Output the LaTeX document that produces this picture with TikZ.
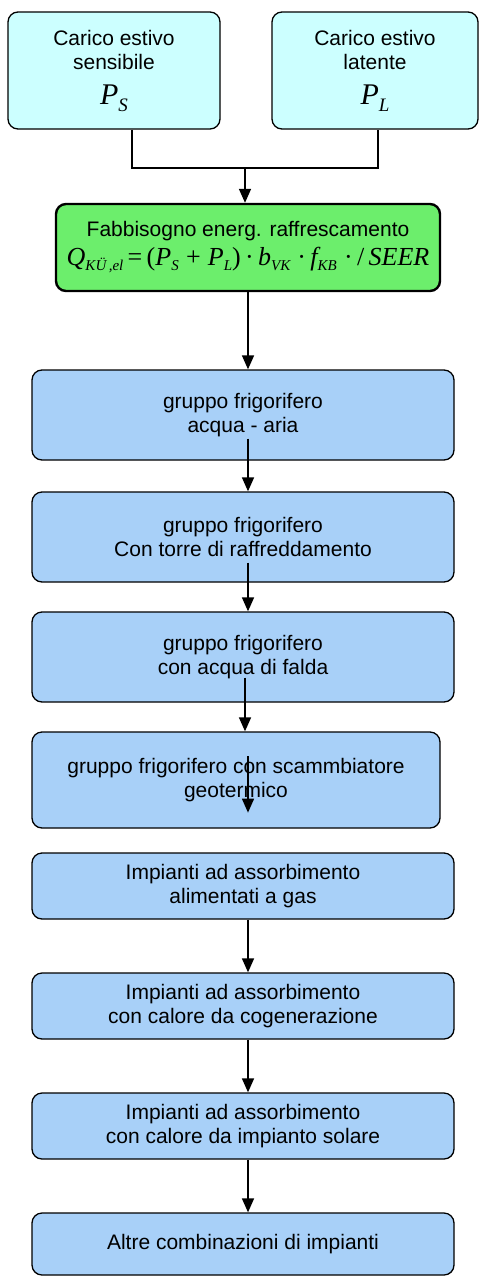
\documentclass[tikz,border=0pt]{standalone}
\usepackage{fontspec}
\setmainfont{Liberation Sans}
\newfontfamily\tnr{Liberation Serif}
\usetikzlibrary{arrows.meta}
\usetikzlibrary{calc}

\definecolor{loadcyan}{RGB}{204,255,255}
\definecolor{needgreen}{RGB}{108,238,108}
\definecolor{plantblue}{RGB}{168,208,248}

% load symbols (P_S, P_L) and formula variables
\newcommand{\loadvar}[2]{{\tnr\itshape\fontsize{30}{30}\selectfont #1}\raisebox{-7pt}{\tnr\itshape\fontsize{19}{19}\selectfont #2}}
\newcommand{\fvar}[2]{{\itshape #1}\raisebox{-5pt}{\itshape\fontsize{15}{15}\selectfont #2}}

\begin{document}
\begin{tikzpicture}[x=1pt,y=-1pt,
	box/.style={draw,rounded corners=10pt,line width=1.3pt,align=center,inner sep=0pt,
		font=\fontsize{21}{24}\selectfont},
	loadbox/.style={box,fill=loadcyan,minimum height=117pt},
	needbox/.style={box,fill=needgreen,line width=2.4pt,minimum width=384pt,minimum height=87pt},
	plantbox/.style={box,fill=plantblue,minimum width=422pt},
	link/.style={line width=1.5pt},
	flow/.style={line width=1.5pt,-{Triangle[width=12pt,length=14pt]}}]
	\useasboundingbox (0,0) rectangle (480,1277);

	% summer loads
	\node[loadbox,minimum width=212pt] (ps) at (114,70.5) {Carico estivo\\sensibile\\[11pt]\loadvar{P}{S}};
	\node[loadbox,minimum width=206pt] (pl) at (375,70.5) {Carico estivo\\latente\\[11pt]\loadvar{P}{L}};

	% cooling energy need
	\node[needbox] (need) at (248,247.5) {Fabbisogno energ. raffrescamento\\[5pt]
		{\tnr\fontsize{26}{26}\selectfont\fvar{Q}{KÜ\,,el}\,=\,(\fvar{P}{S}\;+\;\fvar{P}{L})\,·\,\fvar{b}{VK}\;·\,\fvar{f}{KB}\;·\,/\,{\itshape SEER}}};

	% plants
	\node[plantbox,minimum height=90pt] (b1) at (243,415) {gruppo frigorifero\\acqua - aria};
	\node[plantbox,minimum height=90pt] (b2) at (243,537) {gruppo frigorifero\\Con torre di raffreddamento};
	\node[plantbox,minimum height=90pt] (b3) at (243,657) {gruppo frigorifero\\con acqua di falda};
	\node[plantbox,minimum width=408pt,minimum height=96pt] (b4) at (236,780) {gruppo frigorifero con scammbiatore\\geotermico};
	\node[plantbox,minimum height=66pt] (b5) at (243,886) {Impianti ad assorbimento\\alimentati a gas};
	\node[plantbox,minimum height=66pt] (b6) at (243,1006) {Impianti ad assorbimento\\con calore da cogenerazione};
	\node[plantbox,minimum height=66pt] (b7) at (243,1126) {Impianti ad assorbimento\\con calore da impianto solare};
	\node[plantbox,minimum height=62pt] (b8) at (243,1244) {Altre combinazioni di impianti};

	% connectors
	\coordinate (join) at (245,168);
	\draw[link] ([xshift=18pt]ps.south) |- (join) -| ([xshift=3pt]pl.south);
	\draw[flow] (join) -- (join |- need.north);
	\draw[flow] (need.south) -- (b1.north -| need.south);
	\draw[flow] ($(b1.south -| need.south)+(0,-22)$) -- (b2.north -| need.south);
	\draw[flow] ($(b2.south -| need.south)+(0,-20)$) -- (b3.north -| need.south);
	\draw[flow] ($(b3.south -| join)+(0,-25)$) -- (b4.north -| join);
	\draw[flow] ($(b4.north -| need.south)+(0,25)$) -- ($(b4.south -| need.south)+(0,-16)$);
	\draw[flow] (b5.south -| need.south) -- (b6.north -| need.south);
	\draw[flow] (b6.south -| need.south) -- (b7.north -| need.south);
	\draw[flow] (b7.south -| need.south) -- (b8.north -| need.south);
\end{tikzpicture}
\end{document}
